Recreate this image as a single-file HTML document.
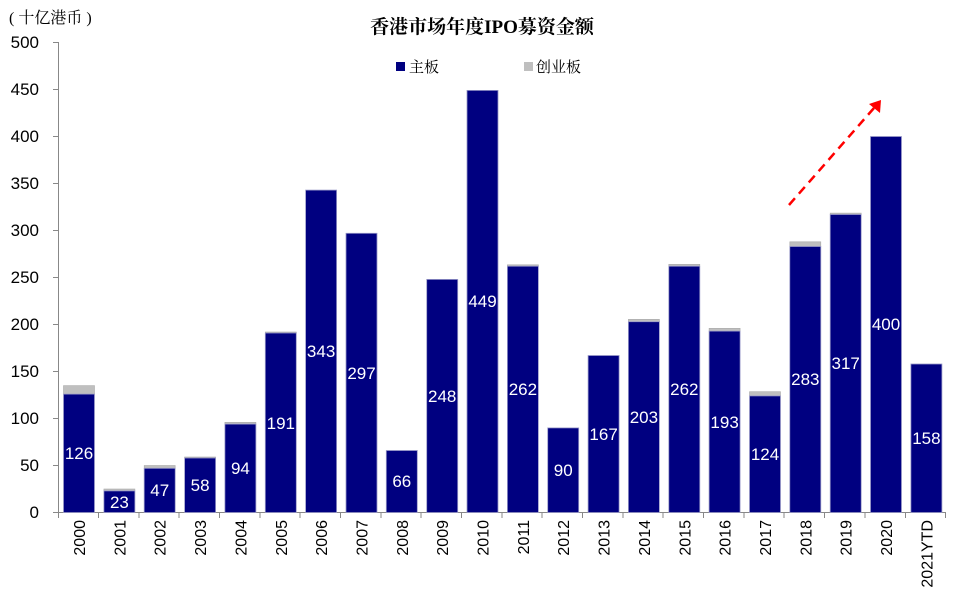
<!DOCTYPE html>
<html><head><meta charset="utf-8"><style>
html,body{margin:0;padding:0;background:#fff;}
svg{display:block;}
text{font-family:"Liberation Sans","Noto Sans CJK SC",sans-serif;}
.cj{font-family:"Liberation Serif","Noto Serif CJK SC","Noto Sans CJK SC",serif;}
.m{fill:#000080;stroke:#9a9ac8;stroke-width:0.8;}
.g{fill:#bfbfbf;stroke:#aaa;stroke-width:0.6;}
.l{fill:#fff;font-size:17px;text-anchor:middle;}
.x{font-size:16px;text-anchor:end;fill:#000;}
.y{font-size:17px;text-anchor:end;fill:#000;}
</style></head><body>
<svg width="960" height="606" viewBox="0 0 960 606">
<text x="9" y="23" class="cj" font-size="16">( 十亿港币 )</text>
<text x="482" y="33" class="cj" font-size="19" font-weight="bold" text-anchor="middle">香港市场年度IPO募资金额</text>
<rect x="396" y="62" width="9" height="9" fill="#000080"/>
<text x="409" y="72" class="cj" font-size="15">主板</text>
<rect x="524" y="62" width="9" height="9" fill="#bfbfbf"/>
<text x="536" y="72" class="cj" font-size="15">创业板</text>

<g stroke="#888" stroke-width="1">
<line x1="58.5" y1="42" x2="58.5" y2="513"/>
<line x1="58" y1="512.5" x2="946" y2="512.5"/>
<line x1="53" y1="42.5" x2="58" y2="42.5"/><line x1="53" y1="89.5" x2="58" y2="89.5"/>
<line x1="53" y1="136.5" x2="58" y2="136.5"/><line x1="53" y1="183.5" x2="58" y2="183.5"/>
<line x1="53" y1="230.5" x2="58" y2="230.5"/><line x1="53" y1="277.5" x2="58" y2="277.5"/>
<line x1="53" y1="324.5" x2="58" y2="324.5"/><line x1="53" y1="371.5" x2="58" y2="371.5"/>
<line x1="53" y1="418.5" x2="58" y2="418.5"/><line x1="53" y1="465.5" x2="58" y2="465.5"/>
<line x1="53" y1="512.5" x2="58" y2="512.5"/>
<line x1="58.5" y1="512" x2="58.5" y2="518"/><line x1="98.5" y1="512" x2="98.5" y2="518"/>
<line x1="139" y1="512" x2="139" y2="518"/><line x1="179" y1="512" x2="179" y2="518"/>
<line x1="219.5" y1="512" x2="219.5" y2="518"/><line x1="260" y1="512" x2="260" y2="518"/>
<line x1="300" y1="512" x2="300" y2="518"/><line x1="340.5" y1="512" x2="340.5" y2="518"/>
<line x1="381" y1="512" x2="381" y2="518"/><line x1="421" y1="512" x2="421" y2="518"/>
<line x1="461.5" y1="512" x2="461.5" y2="518"/><line x1="502" y1="512" x2="502" y2="518"/>
<line x1="542" y1="512" x2="542" y2="518"/><line x1="582.5" y1="512" x2="582.5" y2="518"/>
<line x1="623" y1="512" x2="623" y2="518"/><line x1="663" y1="512" x2="663" y2="518"/>
<line x1="703.5" y1="512" x2="703.5" y2="518"/><line x1="744" y1="512" x2="744" y2="518"/>
<line x1="784" y1="512" x2="784" y2="518"/><line x1="824.5" y1="512" x2="824.5" y2="518"/>
<line x1="865" y1="512" x2="865" y2="518"/><line x1="905.5" y1="512" x2="905.5" y2="518"/>
<line x1="945.5" y1="512" x2="945.5" y2="518"/>
</g>
<text class="y" x="39" y="48">500</text><text class="y" x="39" y="95">450</text>
<text class="y" x="39" y="142">400</text><text class="y" x="39" y="189">350</text>
<text class="y" x="39" y="236">300</text><text class="y" x="39" y="283">250</text>
<text class="y" x="39" y="330">200</text><text class="y" x="39" y="377">150</text>
<text class="y" x="39" y="424">100</text><text class="y" x="39" y="471">50</text>
<text class="y" x="39" y="518">0</text>

<rect class="g" x="63.5" y="385.6" width="31" height="9"/>
<rect class="g" x="103.9" y="489" width="31" height="2"/>
<rect class="g" x="144.2" y="465.5" width="31" height="3"/>
<rect class="g" x="184.6" y="457" width="31" height="1"/>
<rect class="g" x="224.9" y="422.3" width="31" height="2"/>
<rect class="g" x="265.3" y="332" width="31" height="1"/>
<rect class="g" x="507.4" y="264.8" width="31" height="1.5"/>
<rect class="g" x="628.4" y="319.3" width="31" height="2.5"/>
<rect class="g" x="668.8" y="264.3" width="31" height="2"/>
<rect class="g" x="709.1" y="328.3" width="31" height="3"/>
<rect class="g" x="749.5" y="391.7" width="31" height="4.2"/>
<rect class="g" x="789.8" y="241.8" width="31" height="4.8"/>
<rect class="g" x="830.2" y="213.1" width="31" height="1.5"/>

<rect class="m" x="63.5" y="394.1" width="31" height="118.4"/>
<rect class="m" x="103.9" y="490.9" width="31" height="21.6"/>
<rect class="m" x="144.2" y="468.3" width="31" height="44.2"/>
<rect class="m" x="184.6" y="458" width="31" height="54.5"/>
<rect class="m" x="224.9" y="424.1" width="31" height="88.4"/>
<rect class="m" x="265.3" y="333" width="31" height="179.5"/>
<rect class="m" x="305.6" y="190.1" width="31" height="322.4"/>
<rect class="m" x="346" y="233.3" width="31" height="279.2"/>
<rect class="m" x="386.3" y="450.5" width="31" height="62"/>
<rect class="m" x="426.7" y="279.4" width="31" height="233.1"/>
<rect class="m" x="467" y="90.4" width="31" height="422.1"/>
<rect class="m" x="507.4" y="266.2" width="31" height="246.3"/>
<rect class="m" x="547.7" y="427.9" width="31" height="84.6"/>
<rect class="m" x="588.1" y="355.5" width="31" height="157"/>
<rect class="m" x="628.4" y="321.7" width="31" height="190.8"/>
<rect class="m" x="668.8" y="266.2" width="31" height="246.3"/>
<rect class="m" x="709.1" y="331.1" width="31" height="181.4"/>
<rect class="m" x="749.5" y="395.9" width="31" height="116.6"/>
<rect class="m" x="789.8" y="246.5" width="31" height="266"/>
<rect class="m" x="830.2" y="214.5" width="31" height="298"/>
<rect class="m" x="870.5" y="136.5" width="31" height="376"/>
<rect class="m" x="910.9" y="364" width="31" height="148.5"/>

<text class="l" x="79" y="459">126</text>
<text class="l" x="119.4" y="508">23</text>
<text class="l" x="159.7" y="496">47</text>
<text class="l" x="200.1" y="491">58</text>
<text class="l" x="240.4" y="474">94</text>
<text class="l" x="280.8" y="429">191</text>
<text class="l" x="321.1" y="357">343</text>
<text class="l" x="361.5" y="379">297</text>
<text class="l" x="401.8" y="487">66</text>
<text class="l" x="442.2" y="402">248</text>
<text class="l" x="482.5" y="307">449</text>
<text class="l" x="522.9" y="395">262</text>
<text class="l" x="563.2" y="476">90</text>
<text class="l" x="603.6" y="440">167</text>
<text class="l" x="643.9" y="423">203</text>
<text class="l" x="684.3" y="395">262</text>
<text class="l" x="724.6" y="428">193</text>
<text class="l" x="765" y="460">124</text>
<text class="l" x="805.3" y="385">283</text>
<text class="l" x="845.7" y="369">317</text>
<text class="l" x="886" y="330">400</text>
<text class="l" x="926.4" y="444">158</text>

<g>
<text class="x" transform="translate(85,520) rotate(-90)">2000</text>
<text class="x" transform="translate(125.4,520) rotate(-90)">2001</text>
<text class="x" transform="translate(165.7,520) rotate(-90)">2002</text>
<text class="x" transform="translate(206.1,520) rotate(-90)">2003</text>
<text class="x" transform="translate(246.4,520) rotate(-90)">2004</text>
<text class="x" transform="translate(286.8,520) rotate(-90)">2005</text>
<text class="x" transform="translate(327.1,520) rotate(-90)">2006</text>
<text class="x" transform="translate(367.5,520) rotate(-90)">2007</text>
<text class="x" transform="translate(407.8,520) rotate(-90)">2008</text>
<text class="x" transform="translate(448.2,520) rotate(-90)">2009</text>
<text class="x" transform="translate(488.5,520) rotate(-90)">2010</text>
<text class="x" transform="translate(528.9,520) rotate(-90)">2011</text>
<text class="x" transform="translate(569.2,520) rotate(-90)">2012</text>
<text class="x" transform="translate(609.6,520) rotate(-90)">2013</text>
<text class="x" transform="translate(649.9,520) rotate(-90)">2014</text>
<text class="x" transform="translate(690.3,520) rotate(-90)">2015</text>
<text class="x" transform="translate(730.6,520) rotate(-90)">2016</text>
<text class="x" transform="translate(771,520) rotate(-90)">2017</text>
<text class="x" transform="translate(811.3,520) rotate(-90)">2018</text>
<text class="x" transform="translate(851.7,520) rotate(-90)">2019</text>
<text class="x" transform="translate(892,520) rotate(-90)">2020</text>
<text class="x" transform="translate(932.4,520) rotate(-90)">2021YTD</text>
</g>

<line x1="789" y1="205" x2="874" y2="108" stroke="#ff0000" stroke-width="2.5" stroke-dasharray="9,6"/>
<polygon points="881,100 880,113 869,104" fill="#ff0000"/>
</svg>
</body></html>
